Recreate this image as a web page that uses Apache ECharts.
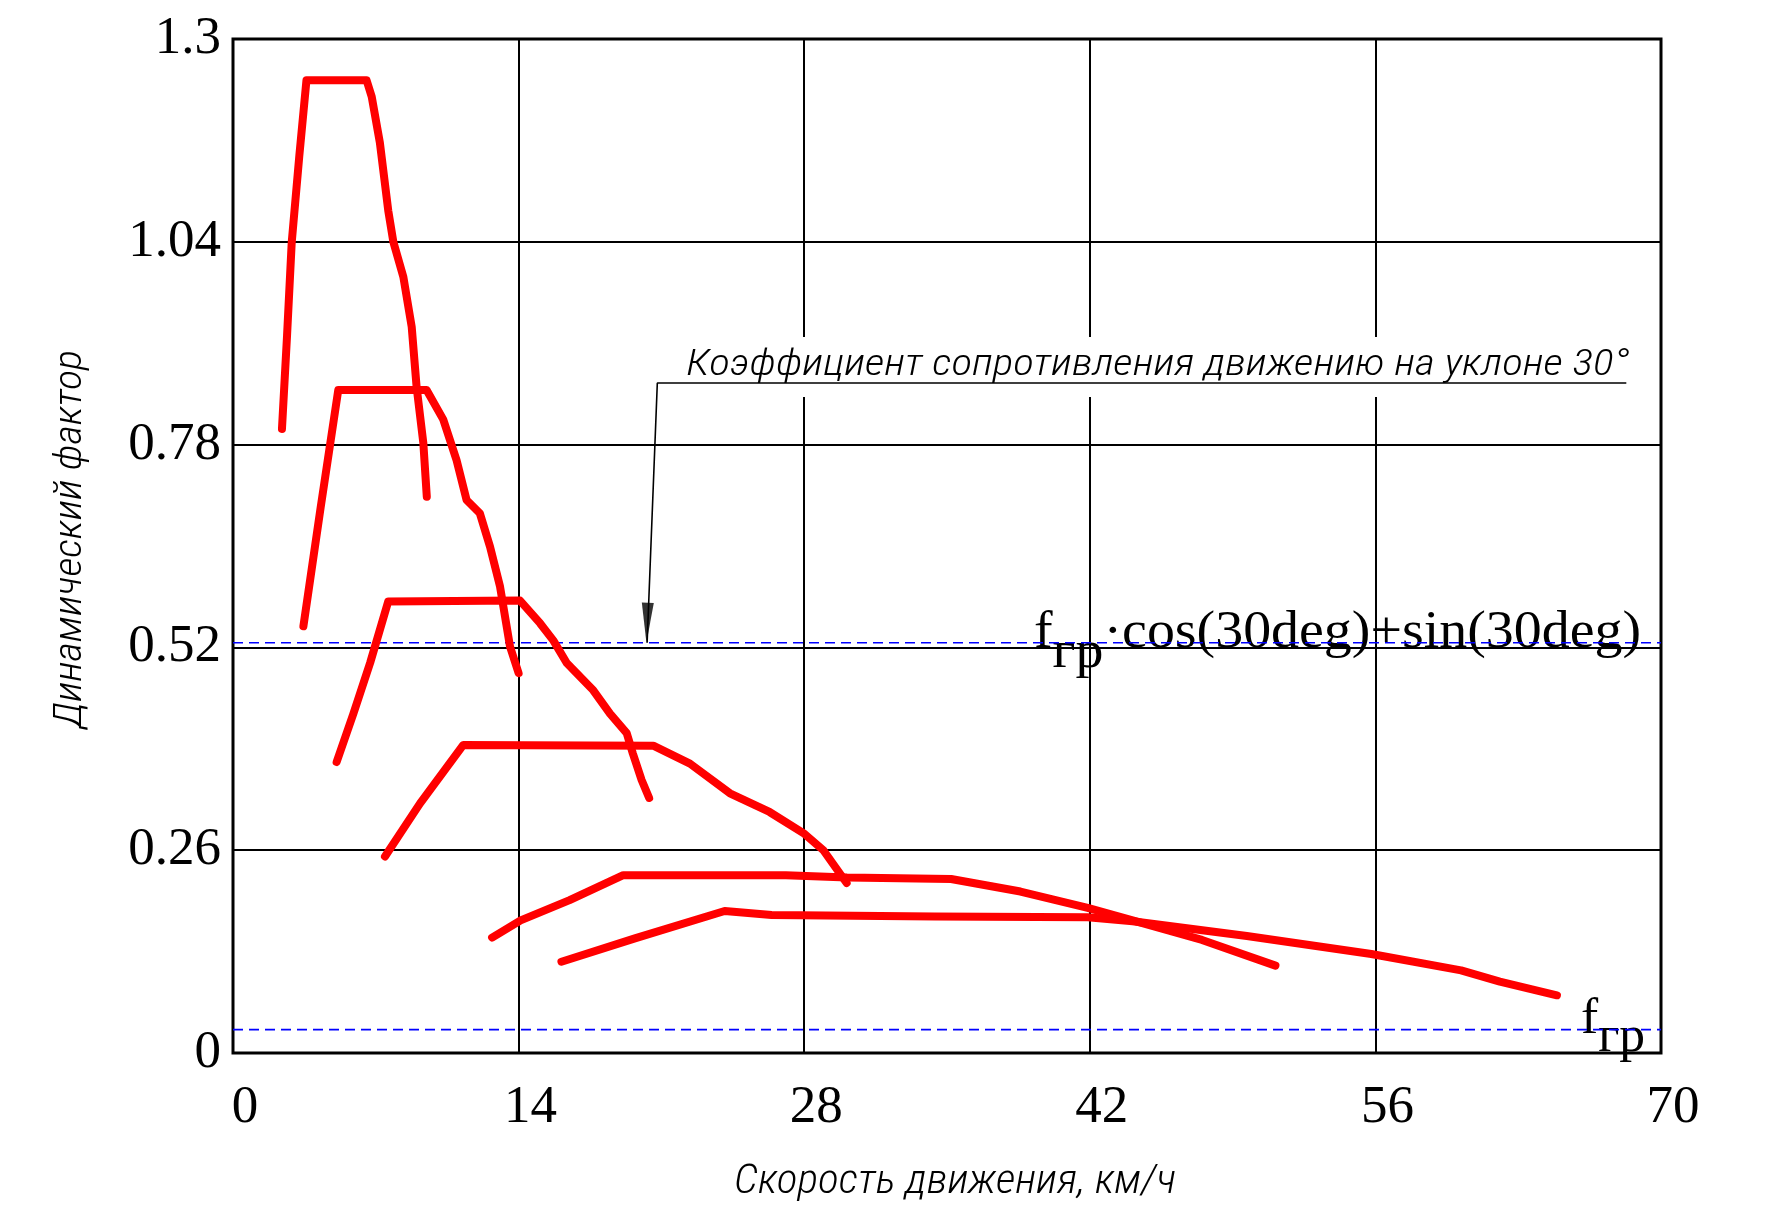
<!DOCTYPE html>
<html>
<head>
<meta charset="utf-8">
<script src="https://cdn.jsdelivr.net/npm/echarts@6/dist/echarts.min.js"></script>
<style>
  html, body { margin: 0; padding: 0; background: #ffffff; }
  #chart { width: 1777px; height: 1205px; }
</style>
</head>
<body>
<div id="chart"></div>
<script>
// Axis ticks
const xTicks = [0, 14, 28, 42, 56, 70];
const yTicks = [0, 0.26, 0.52, 0.78, 1.04, 1.3];

// Dynamic factor vs. speed, one curve per gear: [speed km/h, D]
const gear1 = [[2.4, 0.80], [2.65, 0.92], [2.88, 1.04], [3.25, 1.15], [3.6, 1.247], [6.55, 1.247], [6.8, 1.226], [7.2, 1.167], [7.61, 1.08], [7.86, 1.04], [8.35, 0.995], [8.76, 0.931], [9.0, 0.854], [9.33, 0.782], [9.5, 0.713]];
const gear2 = [[3.45, 0.547], [4.3, 0.70], [5.16, 0.85], [9.49, 0.85], [10.31, 0.812], [10.96, 0.76], [11.45, 0.709], [12.1, 0.692], [12.6, 0.649], [13.09, 0.598], [13.58, 0.521], [14.0, 0.487]];
const gear3 = [[5.08, 0.373], [5.9, 0.435], [6.72, 0.50], [7.61, 0.579], [14.07, 0.58], [15.05, 0.551], [15.7, 0.529], [16.36, 0.50], [17.66, 0.465], [18.48, 0.435], [19.3, 0.41], [19.6, 0.384], [20.03, 0.35], [20.4, 0.327]];
const gear4 = [[7.45, 0.252], [9.17, 0.32], [11.29, 0.395], [20.6, 0.394], [22.4, 0.371], [24.36, 0.333], [26.3, 0.309], [27.96, 0.282], [28.94, 0.26], [30.08, 0.218]];
const gear5 = [[12.7, 0.148], [14.1, 0.17], [16.5, 0.196], [19.13, 0.228], [27.1, 0.228], [30.1, 0.225], [35.2, 0.223], [38.6, 0.207], [41.9, 0.186], [44.1, 0.170], [47.5, 0.145], [51.1, 0.112]];
const gear6 = [[16.1, 0.117], [19.7, 0.147], [24.1, 0.182], [26.4, 0.177], [34.4, 0.175], [41.9, 0.174], [44.1, 0.169], [49.7, 0.150], [55.8, 0.127], [60.2, 0.106], [62.1, 0.0915], [64.9, 0.074]];
const gears = [gear1, gear2, gear3, gear4, gear5, gear6];

// Rolling resistance coefficient and its value on a 30° slope
const fGr = 0.03;
const slopeDeg = 30;
const fSlope = fGr * Math.cos(slopeDeg * Math.PI / 180) + Math.sin(slopeDeg * Math.PI / 180);

// Leader for the slope note: end of underline, corner, arrow tip
const leaderPath = [[68.3, 0.859], [20.8, 0.859], [20.3, fSlope]];

const noteText = 'Коэффициент сопротивления движению на уклоне 30°';
const xTitle = 'Скорость движения, км/ч';
const yTitle = 'Динамический фактор';

const SERIF = "'Liberation Serif', 'Times New Roman', serif";
const DRAFT = "'Roboto Condensed', Roboto, 'DejaVu Sans', sans-serif";

const chart = echarts.init(document.getElementById('chart'), null, { renderer: 'canvas' });

const gridL = 233, gridT = 39, gridW = 1428, gridH = 1014;

const series = gears.map((g, i) => ({
  name: 'Передача ' + (i + 1),
  type: 'line',
  data: g,
  symbol: 'none',
  z: 5,
  lineStyle: { color: '#ff0000', width: 8, join: 'round', cap: 'round' }
}));

[fGr, fSlope].forEach((v, i) => series.push({
  name: i === 0 ? 'f_гр' : 'f_гр·cos+sin',
  type: 'line',
  data: [[xTicks[0], v], [xTicks[xTicks.length - 1], v]],
  symbol: 'none',
  z: 4,
  lineStyle: { color: '#0000ff', width: 1.6, type: [10, 6] }
}));

series.push({
  name: 'leader',
  type: 'line',
  data: leaderPath,
  symbol: 'none',
  z: 6,
  lineStyle: { color: '#000000', width: 1.6 }
});
series.push({
  name: 'arrow',
  type: 'scatter',
  data: [leaderPath[2]],
  symbol: 'path://M0,0L12,0L6,40Z',
  symbolSize: [12, 40],
  symbolOffset: [0, -20],
  symbolRotate: -2,
  z: 6,
  itemStyle: { color: '#000000' }
});

chart.setOption({
  animation: false,
  backgroundColor: '#ffffff',
  grid: { left: gridL, top: gridT, width: gridW, height: gridH, show: true, borderColor: '#000', borderWidth: 3, backgroundColor: 'transparent' },
  xAxis: {
    type: 'value', min: xTicks[0], max: xTicks[xTicks.length - 1], interval: xTicks[1] - xTicks[0],
    axisLine: { show: false }, axisTick: { show: false },
    splitLine: { show: true, lineStyle: { color: '#000', width: 2 } },
    axisLabel: { fontFamily: SERIF, fontSize: 53, color: '#000', margin: 29, padding: [0, 0, 0, 24] }
  },
  yAxis: {
    type: 'value', min: yTicks[0], max: yTicks[yTicks.length - 1], interval: yTicks[1] - yTicks[0],
    axisLine: { show: false }, axisTick: { show: false },
    splitLine: { show: true, lineStyle: { color: '#000', width: 2 } },
    axisLabel: { fontFamily: SERIF, fontSize: 53, color: '#000', margin: 12, padding: [10, 0, 0, 0],
      formatter: v => String(+v.toFixed(2)) }
  },
  series: series
});

// ---- text annotations ----
const ctx = document.createElement('canvas').getContext('2d');
function textWidth(txt, font) { ctx.font = font; return ctx.measureText(txt).width; }

const px = p => chart.convertToPixel({ gridIndex: 0 }, p);
const graphics = [];

// stretched drafting-style text, anchored at (cx, cy)
function draftText(txt, cx, cy, size, targetW, rotation, align) {
  const font = 'italic 300 ' + size + 'px ' + DRAFT;
  const w = textWidth(txt, font);
  graphics.push({
    type: 'text', x: cx, y: cy, rotation: rotation || 0, scaleX: targetW / w, scaleY: 1, z: 20,
    style: { text: txt, fontSize: size, fontFamily: DRAFT, fontStyle: 'italic', fontWeight: 300, fill: '#000',
      align: align || 'center', verticalAlign: 'middle', textAlign: align || 'center', textVerticalAlign: 'middle' }
  });
}

// slope note with white backing over the grid
const corner = px(leaderPath[1]);
const lineEnd = px(leaderPath[0]);
graphics.push({
  type: 'rect', z: 1, silent: true,
  shape: { x: corner[0] + 2, y: corner[1] - 46, width: lineEnd[0] - corner[0] + 10, height: 60 },
  style: { fill: '#ffffff' }
});
draftText(noteText, corner[0] + 29, corner[1] - 17, 36, 943, 0, 'left');

// axis titles
draftText(xTitle, 955, 1183, 40, 442, 0, 'center');
draftText(yTitle, 71, 539, 38, 378, Math.PI / 2, 'center');

// serif formula labels with subscript
function subLabel(parts, left, baseline, size, targetW) {
  const font = size + 'px ' + SERIF;
  let x = 0;
  const children = [];
  parts.forEach(p => {
    const w = textWidth(p.t, font);
    children.push({
      type: 'text', x: x, y: baseline + (p.sub ? p.sub : 0) - 0.3 * size,
      style: { text: p.t, fontSize: size, fontFamily: SERIF, fill: '#000', align: 'left', verticalAlign: 'middle', textAlign: 'left', textVerticalAlign: 'middle' }
    });
    x += w;
  });
  graphics.push({ type: 'group', x: left, y: 0, scaleX: targetW / x, z: 20, children: children });
}

const ySlope = px([0, fSlope])[1];
const yGr = px([0, fGr])[1];
subLabel([{ t: 'f' }, { t: 'гр', sub: 20 }, { t: '·cos(30deg)+sin(30deg)' }], 1034, ySlope + 6, 52, 607);
subLabel([{ t: 'f' }, { t: 'гр', sub: 18 }], 1581, yGr + 5, 51, 64);

chart.setOption({ graphic: graphics });
</script>
</body>
</html>
